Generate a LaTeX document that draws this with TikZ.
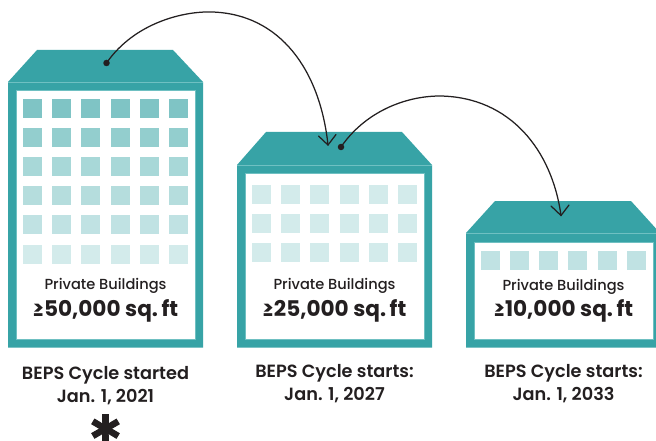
\documentclass[tikz,border=0pt]{standalone}
\usepackage{fontspec}
\setmainfont{Poppins}
\newfontfamily\starf[FakeBold=1.2]{Lato Black}
\newfontfamily\medf{Poppins Medium}
\newfontfamily\semif{Poppins SemiBold}
\newfontfamily\boldf{Poppins}[UprightFont=* Bold]
\definecolor{teal1}{HTML}{37A3A6}
\definecolor{tealedge}{HTML}{6FC0C2}
\definecolor{ink}{HTML}{231F20}
\definecolor{s1}{HTML}{7FC4C5}
\definecolor{s2}{HTML}{93CECE}
\definecolor{s3}{HTML}{A8D8D8}
\definecolor{s4}{HTML}{B5DDDD}
\definecolor{s5}{HTML}{C0E2E3}
\definecolor{s6}{HTML}{D3EBEB}
\tikzset{
  x=1pt,y=-1pt,
  wall/.style={fill=teal1,draw=none},
  innerbox/.style={fill=white,draw=tealedge,line width=0.5pt},
  roofline/.style={draw=tealedge,line width=0.6pt},
  win/.style={draw=none,minimum width=19pt,minimum height=19pt,inner sep=0pt,anchor=north west},
  smalltxt/.style={text=ink,font=\medf\fontsize{14.6}{16}\selectfont,inner sep=0pt,anchor=base},
  bigtxt/.style={text=ink,font=\boldf\fontsize{21.6}{24}\selectfont,inner sep=0pt,anchor=base},
  captxt/.style={text=ink,font=\semif\fontsize{17.7}{23}\selectfont,inner sep=0pt,align=center,anchor=center},
  dotmark/.style={circle,fill=ink,draw=none,minimum size=6.5pt,inner sep=0pt},
  curveline/.style={draw=ink,line width=1.25pt,line cap=round},
  headline/.style={draw=ink,line width=1.25pt,line cap=round,line join=miter},
}
\newcommand{\winrow}[2]{%
  \foreach \wx in {#1}{\node[win,fill=#2] at (\wx,\wy) {};}}
\begin{document}
\begin{tikzpicture}
\useasboundingbox (0,0) rectangle (656,441);
\clip (0,0) rectangle (656,441);
\fill[white] (0,0) rectangle (656,441);
% building 1
\fill[wall] (37,50) -- (173,50) -- (203,82) -- (203,347.5) -- (8,347.5) -- (8,82) -- cycle;
\draw[roofline] (8,82) -- (203,82);
\draw[innerbox] (16.5,90.5) rectangle (195,339);
\foreach \wy/\wc in {99/s1,128/s2,157/s3,186/s4,215/s5,245/s6}{
  \winrow{23,52,81,111,140,169}{\wc}}
% building 2
\fill[wall] (266,132) -- (402,132) -- (432,165) -- (432,347.5) -- (237,347.5) -- (237,165) -- cycle;
\draw[roofline] (237,165) -- (432,165);
\draw[innerbox] (245.5,173.5) rectangle (424,339);
\foreach \wy in {185,214,243}{
  \winrow{252,281,310,340,369,398}{s6}}
% building 3
\fill[wall] (495,201) -- (631,201) -- (660,233) -- (660,347.5) -- (466,347.5) -- (466,233) -- cycle;
\draw[roofline] (466,233) -- (660,233);
\draw[innerbox] (474.5,242) rectangle (653,339);
\def\wy{251}
\winrow{481,510,539,568,598,627}{s5}
% texts
\node[smalltxt] (p1) at (105.5,289) {Private Buildings};
\node[bigtxt] (b1) at (105.5,316.5) {≥50,000 sq.\,ft};
\node[smalltxt] (p2) at (334.5,289) {Private Buildings};
\node[bigtxt] (b2) at (334.5,316.5) {≥25,000 sq.\,ft};
\node[smalltxt] (p3) at (563.5,290) {Private Buildings};
\node[bigtxt] (b3) at (563.5,316.5) {≥10,000 sq.\,ft};
\node[captxt] (c1) at (105.5,386) {BEPS Cycle started\\Jan. 1, 2021};
\node[captxt] (c2) at (334.5,384) {BEPS Cycle starts:\\Jan. 1, 2027};
\node[captxt] (c3) at (563.5,384) {BEPS Cycle starts:\\Jan. 1, 2033};
\node[text=ink,font=\starf\fontsize{80}{80}\selectfont,inner sep=0pt] (star) at (105.5,445) {*};
% connectors
\node[dotmark] (d1) at (106.5,63) {};
\coordinate (t1) at (328,145);
\node[dotmark] (d2) at (341,147) {};
\coordinate (t2) at (561,215.5);
\draw[curveline] (d1.center) .. controls (135,22) and (185,11) .. (212,12) .. controls (280,14) and (320,70) .. (t1);
\draw[headline] (318.5,136) -- (t1) -- (336,134.5);
\draw[curveline] (d2.center) .. controls (365,112) and (405,96) .. (440,96) .. controls (510,97) and (552,150) .. (t2);
\draw[headline] (551,206) -- (t2) -- (569,205);
\end{tikzpicture}
\end{document}
